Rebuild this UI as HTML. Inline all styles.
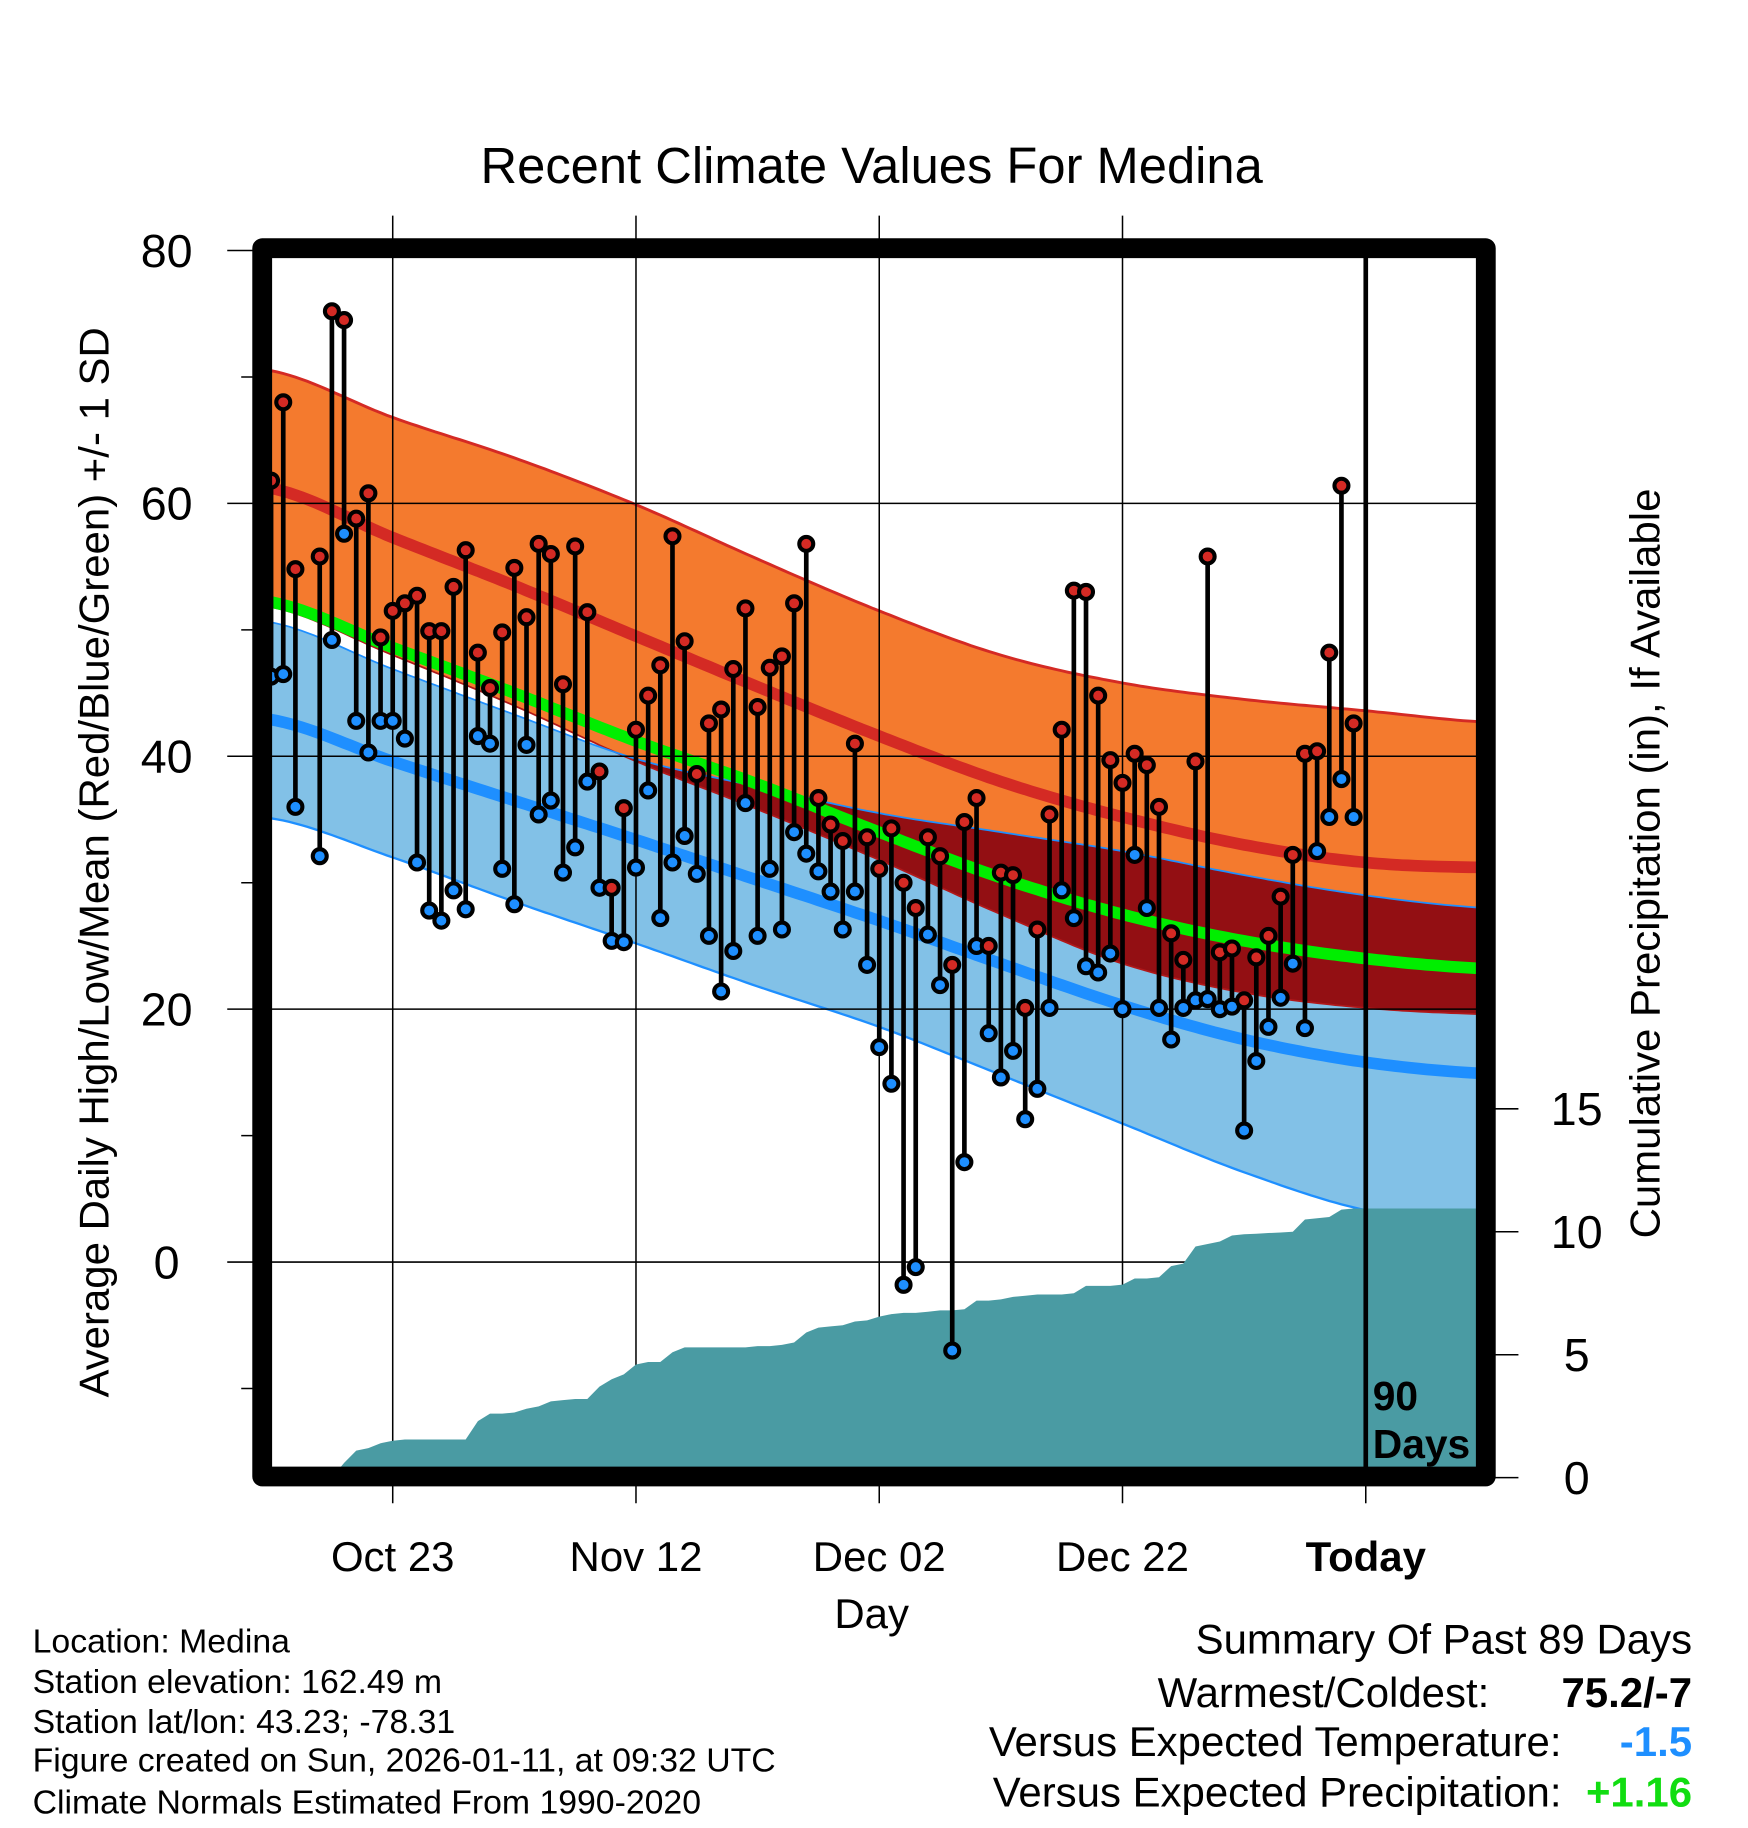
<!DOCTYPE html>
<html><head><meta charset="utf-8"><style>
html,body{margin:0;padding:0;background:#fff;}
svg{display:block;font-family:"Liberation Sans",Arial,sans-serif;}
</style></head><body>
<svg id="chart" width="1748" height="1828" viewBox="0 0 1500 1568.65" preserveAspectRatio="none" xmlns="http://www.w3.org/2000/svg">
<rect x="0" y="0" width="1500" height="1568.65" fill="#fff"/>
<text x="748" y="157" font-size="43.5" text-anchor="middle">Recent Climate Values For Medina</text>
<g id="bands"></g>
<g id="grid"></g>
<g id="precip"></g>
<g id="marks"></g>
<g id="axes"></g>
<text transform="translate(93,740) rotate(-90)" font-size="36" text-anchor="middle">Average Daily High/Low/Mean (Red/Blue/Green) +/- 1 SD</text>
<text transform="translate(1424,741) rotate(-90)" font-size="36" text-anchor="middle">Cumulative Precipitation (in), If Available</text>
<text x="748" y="1397" font-size="36" text-anchor="middle">Day</text>
<text x="1178" y="1210" font-size="35" font-weight="bold">90</text>
<text x="1178" y="1251" font-size="35" font-weight="bold">Days</text>
<g font-size="29">
<text x="28" y="1418">Location: Medina</text>
<text x="28" y="1453">Station elevation: 162.49 m</text>
<text x="28" y="1487">Station lat/lon: 43.23; -78.31</text>
<text x="28" y="1520">Figure created on Sun, 2026-01-11, at 09:32 UTC</text>
<text x="28" y="1556">Climate Normals Estimated From 1990-2020</text>
</g>
<g font-size="36">
<text x="1452" y="1419" text-anchor="end">Summary Of Past 89 Days</text>
<text x="1278" y="1465" text-anchor="end">Warmest/Coldest:</text>
<text x="1452" y="1465" text-anchor="end" font-weight="bold">75.2/-7</text>
<text x="1340" y="1507" text-anchor="end">Versus Expected Temperature:</text>
<text x="1452" y="1507" text-anchor="end" font-weight="bold" fill="#1E8FFF">-1.5</text>
<text x="1340" y="1550" text-anchor="end">Versus Expected Precipitation:</text>
<text x="1452" y="1550" text-anchor="end" font-weight="bold" fill="#11DD11">+1.16</text>
</g>
</svg>
<script>
// ---- data ----
const knotDays = [-10,0,10,20,30,40,50,60,70,80,90];
const highPlus = [70.5,66.8,63.6,59.9,55.6,51.5,48.0,45.8,44.5,43.6,42.7];
const highMean = [61.2,57.3,53.5,49.5,45.5,41.6,38.0,35.2,33.0,31.6,31.2];
const highMinus = [51.8,48.0,44.0,39.6,35.8,31.8,27.5,23.6,21.3,20.1,19.6];
const meanNormal = [52.2,48.6,45.0,41.2,37.8,34.0,30.4,27.5,25.4,24.0,23.2];
const lowPlus = [50.6,46.9,43.3,39.8,37.6,35.5,34.0,32.5,30.6,29.0,28.0];
const lowMean = [42.9,39.6,36.5,33.4,30.2,27.0,23.6,20.3,17.6,15.8,14.9];
const lowMinus = [35.1,32.0,28.5,25.2,21.8,18.6,14.8,10.95,7.1,4.1,3.0];
const highs = [61.8,68,54.8,null,55.8,75.2,74.5,58.8,60.8,49.4,51.5,52.1,52.7,49.9,49.9,53.4,56.3,48.2,45.4,49.8,54.9,51.0,56.8,56.0,45.7,56.6,51.4,38.8,29.6,35.9,42.1,44.8,47.2,57.4,49.1,38.6,42.6,43.7,46.9,51.7,43.9,47.0,47.9,52.1,56.8,36.7,34.6,33.3,41.0,33.6,31.1,34.3,30.0,28.0,33.6,32.1,23.5,34.8,36.7,25.0,30.8,30.6,20.1,26.3,35.4,42.1,53.1,53.0,44.8,39.7,37.9,40.2,39.3,36.0,26.0,23.9,39.6,55.8,24.5,24.8,20.7,24.1,25.8,28.9,32.2,40.2,40.4,48.2,61.4,42.6];
const lows = [46.3,46.5,36,null,32.1,49.2,57.6,42.8,40.3,42.8,42.8,41.4,31.6,27.8,27.0,29.4,27.9,41.6,41.0,31.1,28.3,40.9,35.4,36.5,30.8,32.8,38.0,29.6,25.4,25.3,31.2,37.3,27.2,31.6,33.7,30.7,25.8,21.4,24.6,36.3,25.8,31.1,26.3,34.0,32.3,30.9,29.3,26.3,29.3,23.5,17.0,14.1,-1.8,-0.4,25.9,21.9,-7.0,7.9,25.0,18.1,14.6,16.7,11.3,13.7,20.1,29.4,27.2,23.4,22.9,24.4,20.0,32.2,28.0,20.1,17.6,20.1,20.7,20.8,20.0,20.2,10.4,15.9,18.6,20.9,23.6,18.5,32.5,35.2,38.2,35.2];
const precip = [0,0,0,0,0,0,0.6,1.1,1.2,1.4,1.5,1.55,1.55,1.55,1.55,1.55,1.55,2.3,2.6,2.6,2.65,2.8,2.9,3.1,3.15,3.2,3.2,3.7,4.0,4.2,4.6,4.7,4.7,5.1,5.3,5.3,5.3,5.3,5.3,5.3,5.35,5.35,5.4,5.5,5.9,6.1,6.15,6.2,6.35,6.4,6.55,6.65,6.7,6.7,6.75,6.8,6.8,6.85,7.2,7.2,7.25,7.35,7.4,7.45,7.45,7.45,7.5,7.8,7.8,7.8,7.85,8.1,8.1,8.15,8.6,8.7,9.4,9.5,9.6,9.85,9.9,9.92,9.95,9.97,10.0,10.5,10.55,10.6,10.9,10.95];
const xTickDays = [0,20,40,60,80];
const xTickLabels = ["Oct 23","Nov 12","Dec 02","Dec 22","Today"];
const yTicks = [0,20,40,60,80];
const yMinor = [-10,10,30,50,70];
const pTicks = [0,5,10,15];
const firstDay = -10;

// ---- scales ----
const X = d => 337 + d*10.4375;
const Y = v => 1083 - v*10.85;
const PY = p => 1268 - p*21.1;
const IL=232, IR=1268, IT=220, IB=1260;
const NS="http://www.w3.org/2000/svg";
function mk(tag, parent, attrs){const e=document.createElementNS(NS,tag);for(const k in attrs)e.setAttribute(k,attrs[k]);parent.appendChild(e);return e;}

function sample(arr){
  const out=[];
  for(let s=0;s<arr.length-1;s++){
    const p0=arr[Math.max(s-1,0)],p1=arr[s],p2=arr[s+1],p3=arr[Math.min(s+2,arr.length-1)];
    for(let t=0;t<1;t+=0.05){
      const t2=t*t,t3=t2*t;
      const v=0.5*((2*p1)+(-p0+p2)*t+(2*p0-5*p1+4*p2-p3)*t2+(-p0+3*p1-3*p2+p3)*t3);
      out.push([knotDays[s]+t*(knotDays[s+1]-knotDays[s]),v]);
    }
  }
  out.push([knotDays[knotDays.length-1],arr[arr.length-1]]);
  return out;
}
const svg=document.getElementById('chart');
const defs=mk('defs',svg,{});
const cp=mk('clipPath',defs,{id:'inner'});
mk('rect',cp,{x:IL,y:IT,width:IR-IL,height:IB-IT});

const bands=document.getElementById('bands');
bands.setAttribute('clip-path','url(#inner)');
function bandPath(top,bot){
  const a=top.map(p=>X(p[0]).toFixed(1)+','+Y(p[1]).toFixed(1));
  const b=bot.slice().reverse().map(p=>X(p[0]).toFixed(1)+','+Y(p[1]).toFixed(1));
  return 'M'+a.join('L')+'L'+b.join('L')+'Z';
}
function linePath(pts){return 'M'+pts.map(p=>X(p[0]).toFixed(1)+','+Y(p[1]).toFixed(1)).join('L');}
const sHP=sample(highPlus),sHM=sample(highMean),sHm=sample(highMinus),sMe=sample(meanNormal),sLP=sample(lowPlus),sLM=sample(lowMean),sLm=sample(lowMinus);

let e;
e=mk('path',bands,{d:bandPath(sHP,sHm),fill:'#F47A2E'});


e=mk('path',bands,{d:bandPath(sLP,sLm),fill:'#82C1E7'});


const ovBot=sHm.map((p,i)=>[p[0],Math.min(p[1],sLP[i][1])]);
e=mk('path',bands,{d:bandPath(sLP,ovBot),fill:'#930F13'});


e=mk('path',bands,{d:linePath(sHP),fill:'none',stroke:'#D42A24','stroke-width':2.5});


e=mk('path',bands,{d:linePath(sHm),fill:'none',stroke:'#B0181A','stroke-width':1.5});


e=mk('path',bands,{d:linePath(sLP),fill:'none',stroke:'#1E8FFF','stroke-width':1.5});


e=mk('path',bands,{d:linePath(sLm),fill:'none',stroke:'#1E8FFF','stroke-width':2});


e=mk('path',bands,{d:linePath(sHM),fill:'none',stroke:'#D42A24','stroke-width':10});


e=mk('path',bands,{d:linePath(sLM),fill:'none',stroke:'#1E8FFF','stroke-width':10});


e=mk('path',bands,{d:linePath(sMe),fill:'none',stroke:'#00EE00','stroke-width':10});



const grid=document.getElementById('grid');
xTickDays.slice(0,4).forEach(d=>{
  const l=mk('line',grid,{x1:X(d),x2:X(d),y1:185,y2:1290,stroke:'#000','stroke-width':1.3});
  
  
});
mk('line',grid,{x1:X(80),x2:X(80),y1:1267,y2:1290,stroke:'#000','stroke-width':1.3});
yTicks.forEach(v=>{
  const l=mk('line',grid,{x1:195,x2:1275,y1:Y(v),y2:Y(v),stroke:'#000','stroke-width':1.3});
  
  
});

const pg=document.getElementById('precip');
let pd='M'+X(firstDay)+','+IB;
precip.forEach((p,i)=>{pd+='L'+X(firstDay+i).toFixed(1)+','+PY(p).toFixed(1);});
pd+='L'+IR+','+PY(precip[precip.length-1]).toFixed(1)+'L'+IR+','+IB+'Z';
e=mk('path',pg,{d:pd,fill:'#4A9BA3'});



const mg=document.getElementById('marks');
mg.setAttribute('clip-path','url(#inner)');
highs.forEach((h,i)=>{
  const lo=lows[i]; if(h===null||lo===null) return;
  const x=X(firstDay+i);
  const s=mk('line',mg,{x1:x,x2:x,y1:Y(h),y2:Y(lo),stroke:'#000','stroke-width':4});
  
  
  const c1=mk('circle',mg,{cx:x,cy:Y(h),r:6,fill:'#D42A24',stroke:'#000','stroke-width':3.5});
  
  
  const c2=mk('circle',mg,{cx:x,cy:Y(lo),r:6,fill:'#1E8FFF',stroke:'#000','stroke-width':3.5});
  
  
});

const ax=document.getElementById('axes');
e=mk('line',ax,{x1:X(80),x2:X(80),y1:213,y2:1267,stroke:'#000','stroke-width':4});


e=mk('rect',ax,{x:225,y:213,width:1050,height:1054,fill:'none',stroke:'#000','stroke-width':17,'stroke-linejoin':'round'});


yTicks.forEach(v=>{
  const t=mk('text',ax,{x:143,y:Y(v)+14,'font-size':40,'text-anchor':'middle'});
  t.textContent=String(v);
  
  
});
yMinor.forEach(v=>{mk('line',ax,{x1:207,x2:225,y1:Y(v),y2:Y(v),stroke:'#000','stroke-width':1.3});});
pTicks.forEach(p=>{
  mk('line',ax,{x1:1275,x2:1303,y1:PY(p),y2:PY(p),stroke:'#000','stroke-width':1.3});
  const t=mk('text',ax,{x:1353,y:PY(p)+14,'font-size':40,'text-anchor':'middle'});
  t.textContent=String(p);
  
  
});
xTickDays.forEach((d,i)=>{
  const t=mk('text',ax,{x:X(d),y:1348,'font-size':36,'text-anchor':'middle'});
  if(i===4) t.setAttribute('font-weight','bold');
  t.textContent=xTickLabels[i];
  
  
});
</script>
</body></html>
